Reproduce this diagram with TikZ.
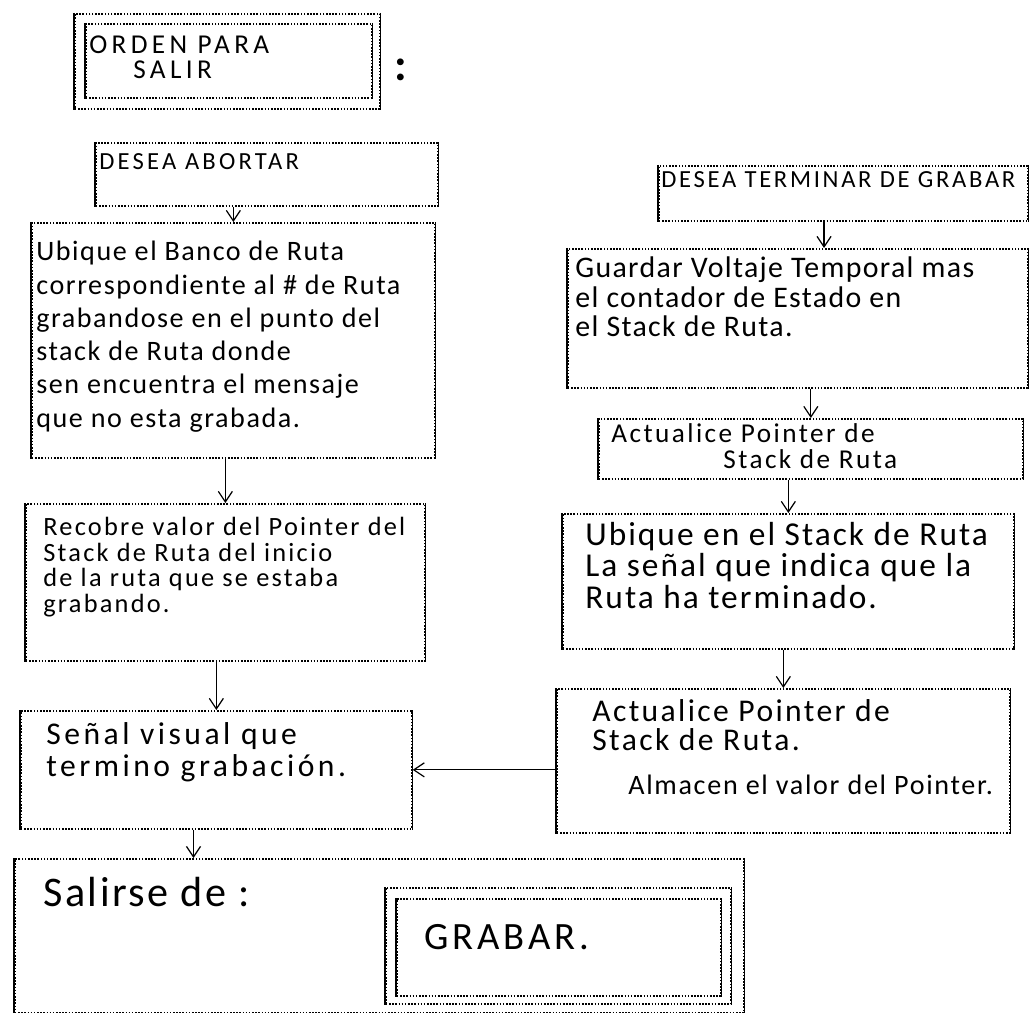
\documentclass[tikz,border=0pt]{standalone}
\usepackage{fontspec}
\setmainfont{Carlito}
\usetikzlibrary{arrows.meta}

% letra con espaciado
\newcommand{\letra}[3]{\fontsize{#1}{#2}\selectfont\addfontfeature{LetterSpace=#3}}

\begin{document}
\begin{tikzpicture}[
	x=0.02cm, y=-0.02cm,
	>={Straight Barb[length=6pt,width=8pt]},
	caja/.style={shape=rectangle, draw, dash pattern=on 0.9pt off 0.9pt, line width=1pt, anchor=north west, inner sep=0pt},
	lado/.style={line width=0.9pt},
	texto/.style={anchor=base west, align=left, inner sep=0pt},
	flecha/.style={->, line width=0.7pt},
]
\useasboundingbox (0,0) rectangle (1031,1013);

% cajas de la izquierda
\node[caja, minimum width=6.1cm, minimum height=1.9cm] (ordenMarco) at (74,13) {};
\node[caja, minimum width=5.72cm, minimum height=1.48cm] (orden) at (85,23) {};
\node[caja, minimum width=6.84cm, minimum height=1.26cm] (abortar) at (95,142) {};
\node[caja, minimum width=8.06cm, minimum height=4.7cm] (ubiqueA) at (31,222) {};
\node[caja, minimum width=7.98cm, minimum height=3.14cm] (recobre) at (25,503) {};
\node[caja, minimum width=7.82cm, minimum height=2.36cm] (senal) at (20,710) {};
\node[caja, minimum width=14.58cm, minimum height=3.08cm] (salir) at (14,858) {};
\node[caja, minimum width=6.9cm, minimum height=2.32cm] (grabarMarco) at (385,887) {};
\node[caja, minimum width=6.48cm, minimum height=1.94cm] (grabar) at (396,898) {};

% cajas de la derecha
\node[caja, minimum width=7.38cm, minimum height=1.1cm] (terminar) at (658,165) {};
\node[caja, minimum width=9.2cm, minimum height=2.78cm] (guardar) at (567,248) {};
\node[caja, minimum width=8.48cm, minimum height=1.2cm] (actA) at (598,418) {};
\node[caja, minimum width=9.02cm, minimum height=2.7cm] (ubiqueB) at (562,513) {};
\node[caja, minimum width=9.06cm, minimum height=2.88cm] (actB) at (556,688) {};

% lados verticales llenos
\foreach \n in {ordenMarco,orden,abortar,ubiqueA,recobre,senal,salir,grabarMarco,grabar,terminar,guardar,actA,ubiqueB,actB}
	\draw[lado] (\n.north west) -- (\n.south west) (\n.north east) -- (\n.south east);

% textos (anclados en la ultima linea)
\node[texto, font=\letra{15.5}{14.5}{16}] (t-orden) at (89,79) {ORDEN PARA\\\hspace*{0.88cm}SALIR};
\node[font=\fontsize{26}{26}\selectfont\bfseries] (dospuntos) at (401,70) {:};
\node[texto, font=\letra{14}{16}{13}] (t-abortar) at (99,170) {DESEA ABORTAR};
\node[texto, font=\letra{16}{18.9}{5.5}] (t-ubiqueA) at (36,427) {Ubique el Banco de Ruta\\correspondiente al \# de Ruta\\grabandose en el punto del\\stack de Ruta donde\\sen encuentra el mensaje\\que no esta grabada.};
\node[texto, font=\letra{15}{14.5}{8.5}] (t-recobre) at (43,612) {Recobre valor del Pointer del\\Stack de Ruta del inicio\\de la ruta que se estaba\\grabando.};
\node[texto, font=\letra{18}{18}{11}] (t-senal) at (46,776) {Señal visual que\\termino grabación.};
\node[texto, font=\letra{24}{24}{6}] (t-salir) at (43,906) {Salirse de :};
\node[texto, font=\letra{22}{22}{10}] (t-grabar) at (424,949) {GRABAR.};

\node[texto, font=\letra{14}{16}{11}] (t-terminar) at (661,188) {DESEA TERMINAR DE GRABAR};
\node[texto, font=\letra{17}{17}{4.5}] (t-guardar) at (575,337) {Guardar Voltaje Temporal mas\\el contador de Estado en\\el Stack de Ruta.};
\node[texto, font=\letra{15.5}{14.3}{9}] (t-actA) at (611,468) {Actualice Pointer de\\\hspace*{2.24cm}Stack de Ruta};
\node[texto, font=\letra{19}{17.9}{6}] (t-ubiqueB) at (585,608) {Ubique en el Stack de Ruta\\La señal que indica que la\\Ruta ha terminado.};
\node[texto, font=\letra{18}{16.6}{7.5}] (t-actB) at (592,794) {Actualice Pointer de\\Stack de Ruta.\\[8pt]\hspace*{0.72cm}{\letra{16}{16.6}{6}Almacen el valor del Pointer.}};

% flechas
\coordinate (bajaSenal) at ([xshift=-13pt]senal.south);
\coordinate (bajaTerminar) at ([xshift=-11pt]terminar.south);
\draw[flecha] (abortar.south -| ubiqueA.north) -- (ubiqueA.north);
\draw[flecha] (ubiqueA.south -| recobre.north) -- (recobre.north);
\draw[flecha] (recobre.south -| senal.north) -- (senal.north);
\draw[flecha] (bajaSenal) -- (bajaSenal |- salir.north);
\draw[flecha] (bajaTerminar) -- (bajaTerminar |- guardar.north);
\draw[flecha] (guardar.south -| actA.north) -- (actA.north);
\draw[flecha] (actA.south -| ubiqueB.north) -- (ubiqueB.north);
\draw[flecha] (ubiqueB.south -| actB.north) -- (actB.north);
\draw[flecha] (actB.west |- senal.east) -- (senal.east);
\end{tikzpicture}
\end{document}
